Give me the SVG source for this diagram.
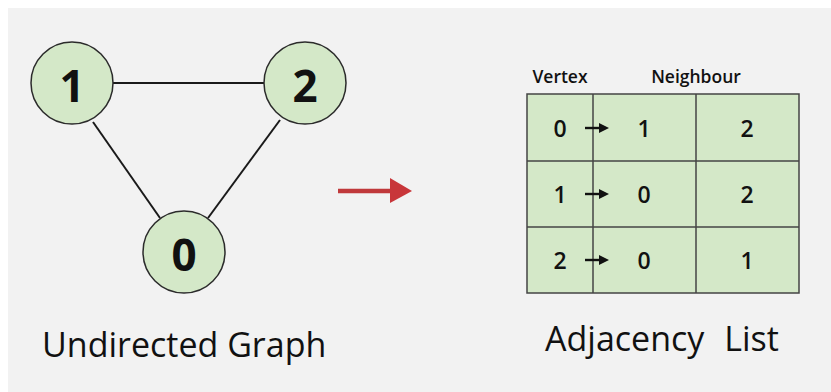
<svg xmlns="http://www.w3.org/2000/svg" width="831" height="392" viewBox="0 0 831 392">
  <style>
    .node circle { fill: #d4e8c8; stroke: #2b2b2b; stroke-width: 1.5; }
    .node text { font-family: "Open Sans", "Noto Sans", sans-serif; font-weight: 700; font-size: 44px; fill: #111; text-anchor: middle; dominant-baseline: central; }
    .edge { stroke: #1a1a1a; stroke-width: 2; }
    .caption { font-family: "Open Sans", "Noto Sans", sans-serif; font-weight: 500; font-size: 34px; fill: #111; }
    .head { font-family: "Open Sans", "Noto Sans", sans-serif; font-weight: 600; font-size: 17.5px; fill: #111; text-anchor: middle; }
    .cell { font-family: "Open Sans", "Noto Sans", sans-serif; font-weight: 600; font-size: 23px; fill: #111; text-anchor: middle; dominant-baseline: central; }
    .grid { fill: none; stroke: #444; stroke-width: 1.5; }
    .ptr { stroke: #111; stroke-width: 2.4; }
  </style>

  <!-- background -->
  <rect x="0" y="0" width="831" height="392" fill="#ffffff"/>
  <rect x="8" y="8" width="823" height="384" fill="#f2f2f2"/>

  <!-- graph edges -->
  <g id="edges">
    <line class="edge" x1="113" y1="83" x2="264" y2="83"/>
    <line class="edge" x1="93" y1="122" x2="160" y2="218"/>
    <line class="edge" x1="280" y1="120" x2="208" y2="218"/>
  </g>

  <!-- graph vertices -->
  <g id="node-1" class="node">
    <circle cx="72" cy="83" r="41"/>
    <text x="72" y="85">1</text>
  </g>
  <g id="node-2" class="node">
    <circle cx="305" cy="83" r="41"/>
    <text x="305" y="85">2</text>
  </g>
  <g id="node-0" class="node">
    <circle cx="184" cy="252" r="41"/>
    <text x="184" y="254">0</text>
  </g>

  <text class="caption" x="42" y="357">Undirected Graph</text>

  <!-- transform arrow -->
  <g id="transform-arrow">
    <line x1="338" y1="191" x2="392" y2="191" stroke="#c0393b" stroke-width="4.5"/>
    <path d="M390,178 L412,191 L390,203 z" fill="#c8363a"/>
  </g>

  <!-- adjacency list table -->
  <g id="adjacency-table">
    <text class="head" x="560" y="83">Vertex</text>
    <text class="head" x="696" y="83">Neighbour</text>
    <rect x="527" y="94" width="272" height="199" fill="#d4e8c8" stroke="#444" stroke-width="1.5"/>
    <line class="grid" x1="593" y1="94" x2="593" y2="293"/>
    <line class="grid" x1="696" y1="94" x2="696" y2="293"/>
    <line class="grid" x1="527" y1="161" x2="799" y2="161"/>
    <line class="grid" x1="527" y1="227" x2="799" y2="227"/>

    <g id="row-0">
      <text class="cell" x="560" y="128">0</text>
      <line class="ptr" x1="585" y1="128" x2="601" y2="128"/>
      <path d="M599,123 L609,128 L599,133 z" fill="#111"/>
      <text class="cell" x="644" y="128">1</text>
      <text class="cell" x="747" y="128">2</text>
    </g>
    <g id="row-1">
      <text class="cell" x="560" y="194">1</text>
      <line class="ptr" x1="585" y1="194" x2="601" y2="194"/>
      <path d="M599,189 L609,194 L599,199 z" fill="#111"/>
      <text class="cell" x="644" y="194">0</text>
      <text class="cell" x="747" y="194">2</text>
    </g>
    <g id="row-2">
      <text class="cell" x="560" y="260">2</text>
      <line class="ptr" x1="585" y1="260" x2="601" y2="260"/>
      <path d="M599,255 L609,260 L599,265 z" fill="#111"/>
      <text class="cell" x="644" y="260">0</text>
      <text class="cell" x="747" y="260">1</text>
    </g>
  </g>

  <text class="caption" x="545" y="351" word-spacing="11">Adjacency  List</text>
</svg>
